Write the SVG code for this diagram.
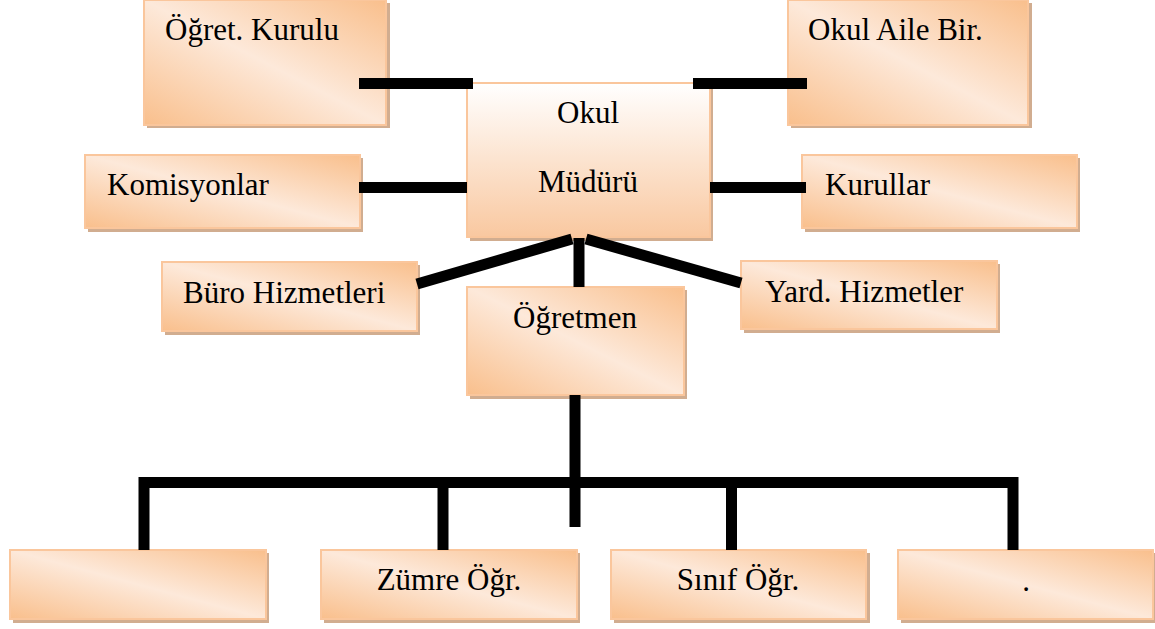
<svg xmlns="http://www.w3.org/2000/svg" width="1155" height="629" viewBox="0 0 1155 629">
<defs>
<linearGradient id="g" x1="1" y1="0" x2="0" y2="1">
<stop offset="0" stop-color="#f9bf8c"/>
<stop offset="0.5" stop-color="#fde9da"/>
<stop offset="1" stop-color="#f9bf8c"/>
</linearGradient>
<linearGradient id="gv" x1="0" y1="0" x2="0" y2="1">
<stop offset="0" stop-color="#ffffff"/>
<stop offset="1" stop-color="#f9c8a0"/>
</linearGradient>
</defs>
<style>
.sh{fill:#c99f7c;opacity:0.85}
.bx{fill:url(#g);stroke:#fac69c;stroke-width:2}
.bv{fill:url(#gv);stroke:#fac69c;stroke-width:2}
.t{font-family:"Liberation Serif","Times New Roman",serif;font-size:31px;fill:#000}
.c{text-anchor:middle}
.ln{stroke:#000;stroke-width:11;fill:none}
</style>
<g id="ogret-kurulu">
<rect class="sh" x="147" y="3" width="243" height="125"/>
<rect class="bx" x="144" y="0" width="242" height="125"/>
<text class="t" x="165" y="40">Öğret. Kurulu</text>
</g>
<g id="okul-aile">
<rect class="sh" x="791" y="3" width="241" height="125"/>
<rect class="bx" x="788" y="0" width="240" height="125"/>
<text class="t" x="808" y="40">Okul Aile Bir.</text>
</g>
<g id="okul-muduru">
<rect class="sh" x="470" y="86" width="243" height="155"/>
<rect class="bv" x="467" y="83" width="243" height="154"/>
<text class="t c" x="588" y="123">Okul</text>
<text class="t c" x="588" y="192">Müdürü</text>
</g>
<g id="komisyonlar">
<rect class="sh" x="88" y="158" width="275" height="74"/>
<rect class="bx" x="85" y="155" width="275" height="73"/>
<text class="t" x="107" y="195">Komisyonlar</text>
</g>
<g id="kurullar">
<rect class="sh" x="805" y="158" width="275" height="74"/>
<rect class="bx" x="802" y="155" width="275" height="73"/>
<text class="t" x="825" y="195">Kurullar</text>
</g>
<g id="buro">
<rect class="sh" x="165" y="265" width="255" height="70"/>
<rect class="bx" x="162" y="262" width="255" height="69"/>
<text class="t" x="183" y="303">Büro Hizmetleri</text>
</g>
<g id="yard">
<rect class="sh" x="744" y="264" width="256" height="69"/>
<rect class="bx" x="741" y="261" width="256" height="68"/>
<text class="t" x="765" y="302">Yard. Hizmetler</text>
</g>
<g id="ogretmen">
<rect class="sh" x="470" y="290" width="217" height="109"/>
<rect class="bx" x="467" y="287" width="217" height="108"/>
<text class="t c" x="575" y="328">Öğretmen</text>
</g>
<g id="bos">
<rect class="sh" x="13" y="553" width="256" height="70"/>
<rect class="bx" x="10" y="550" width="256" height="69"/>
</g>
<g id="zumre">
<rect class="sh" x="324" y="553" width="256" height="70"/>
<rect class="bx" x="321" y="550" width="256" height="69"/>
<text class="t c" x="449" y="590">Zümre Öğr.</text>
</g>
<g id="sinif">
<rect class="sh" x="614" y="553" width="256" height="70"/>
<rect class="bx" x="611" y="550" width="255" height="69"/>
<text class="t c" x="738" y="590">Sınıf Öğr.</text>
</g>
<g id="nokta">
<rect class="sh" x="901" y="553" width="255" height="70"/>
<rect class="bx" x="898" y="550" width="255" height="69"/>
<text class="t c" x="1026" y="591">.</text>
</g>
<g id="connectors">
<line class="ln" x1="359" y1="83.5" x2="473" y2="83.5"/>
<line class="ln" x1="693" y1="83.5" x2="807" y2="83.5"/>
<line class="ln" x1="359" y1="187.5" x2="467" y2="187.5"/>
<line class="ln" x1="710" y1="187.5" x2="806" y2="187.5"/>
<line class="ln" x1="572" y1="239" x2="417" y2="284"/>
<line class="ln" x1="586" y1="239" x2="741" y2="283"/>
<line class="ln" x1="579" y1="238" x2="579" y2="287"/>
<line class="ln" x1="575" y1="395" x2="575" y2="527"/>
<polyline class="ln" points="144,550 144,482.5 1013,482.5 1013,550"/>
<line class="ln" x1="443" y1="482" x2="443" y2="550"/>
<line class="ln" x1="731.5" y1="482" x2="731.5" y2="550"/>
</g>
</svg>
